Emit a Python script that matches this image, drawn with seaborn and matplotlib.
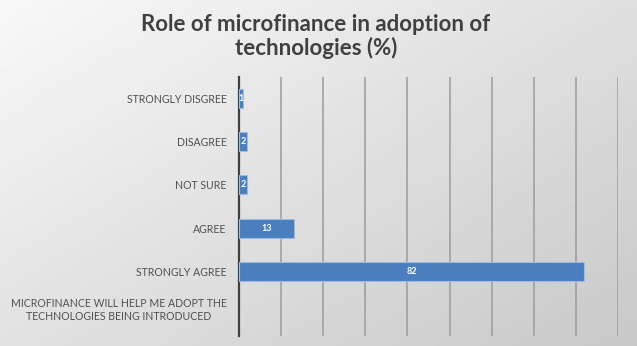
import numpy as np
import pandas as pd
import matplotlib
matplotlib.use("Agg")
import matplotlib.pyplot as plt
import matplotlib.transforms as mtrans
import seaborn as sns

categories = [
    "STRONGLY DISGREE",
    "DISAGREE",
    "NOT SURE",
    "AGREE",
    "STRONGLY AGREE",
    "MICROFINANCE WILL HELP ME ADOPT THE\nTECHNOLOGIES BEING INTRODUCED",
]
values = [1, 2, 2, 13, 82, np.nan]
title = "Role of microfinance in adoption of\ntechnologies (%)"

df = pd.DataFrame({"category": categories, "pct": values})

sns.set_theme(style="white")
plt.rcParams["font.family"] = ["Lato", "DejaVu Sans"]

fig = plt.figure(figsize=(6.37, 3.46), dpi=100)

# gray gradient backdrop
bg = fig.add_axes([0, 0, 1, 1], zorder=-1)
yy, xx = np.mgrid[0:1:200j, 0:1:400j]
shade = 0.975 - 0.10 * xx - 0.09 * yy
bg.imshow(shade, cmap="gray", vmin=0, vmax=1, aspect="auto", extent=[0, 1, 0, 1])
bg.axis("off")

ax = fig.add_axes([0.3752, 0.029, 0.5950, 0.7485])
ax.set_facecolor("none")
sns.barplot(data=df, x="pct", y="category", order=categories, orient="h",
            color="#4a7ebf", saturation=1, edgecolor="#9dbbe0", linewidth=0.8,
            width=0.44, ax=ax, zorder=3)

for i, v in enumerate(values):
    if not np.isnan(v):
        ax.text(v / 2, i, f"{v:g}", ha="center", va="center",
                color="white", fontsize=6.5, fontweight="bold", zorder=4)

ax.set_xlim(0, 90)
ax.set_xticks(range(0, 91, 10))
ax.xaxis.grid(True, color="#9c9c9c", linewidth=1.1)
ax.set_axisbelow(True)
ax.tick_params(axis="x", length=0, labelbottom=False)
ax.tick_params(axis="y", length=0, pad=9, labelsize=7.6, labelcolor="#505050")
labels = ax.get_yticklabels()
for lbl in labels:
    lbl.set_multialignment("center")
labels[-1].set_transform(labels[-1].get_transform() +
                         mtrans.ScaledTranslation(0, 6 / 100, fig.dpi_scale_trans))
ax.set_xlabel("")
ax.set_ylabel("")
for side in ["top", "right", "bottom"]:
    ax.spines[side].set_visible(False)
ax.spines["left"].set_color("#404040")
ax.spines["left"].set_linewidth(1.6)

fig.text(0.496, 0.96, title, ha="center", va="top", fontsize=16,
         fontweight="bold", color="#404040", linespacing=1.1)

fig.savefig("out.png", dpi=100)
